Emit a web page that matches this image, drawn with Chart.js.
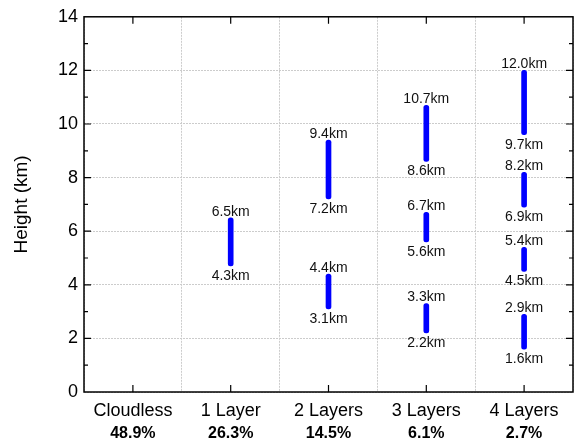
<!DOCTYPE html>
<html>
<head>
<meta charset="utf-8">
<script src="https://cdn.jsdelivr.net/npm/chart.js@4/dist/chart.umd.min.js"></script>
<style>
  html, body { margin: 0; padding: 0; background: #fff; }
  #wrap { width: 582px; height: 446px; }
</style>
</head>
<body>
<div id="wrap"><canvas id="cloud-chart"></canvas></div>
<script>
// Categories and share of each case
const categories = ['Cloudless', '1 Layer', '2 Layers', '3 Layers', '4 Layers'];
const shares = ['48.9%', '26.3%', '14.5%', '6.1%', '2.7%'];

// Cloud layer tops / bottoms in km (highest layer first)
const layerTops = [[], [6.5], [9.4, 4.4], [10.7, 6.7, 3.3], [12.0, 8.2, 5.4, 2.9]];
const layerBottoms = [[], [4.7], [7.2, 3.1], [8.6, 5.6, 2.2], [9.6, 6.9, 4.5, 1.6]];

// Text printed at the ends of each layer
const topLabels = [[], ['6.5km'], ['9.4km', '4.4km'], ['10.7km', '6.7km', '3.3km'], ['12.0km', '8.2km', '5.4km', '2.9km']];
const bottomLabels = [[], ['4.3km'], ['7.2km', '3.1km'], ['8.6km', '5.6km', '2.2km'], ['9.7km', '6.9km', '4.5km', '1.6km']];

const yTicks = [0, 2, 4, 6, 8, 10, 12, 14];

const FONT = "'Liberation Sans', Arial, sans-serif";
Chart.defaults.font.family = FONT;
Chart.defaults.color = '#000';

// one dataset per layer index
const datasets = [0, 1, 2, 3].map(function(i) {
    return {
        label: 'Layer ' + (i + 1),
        data: categories.map(function(c, k) {
            return layerTops[k][i] != null ? [layerBottoms[k][i], layerTops[k][i]] : null;
        }),
        backgroundColor: '#0000ff',
        barThickness: 5,
        borderRadius: 3,
        borderSkipped: false,
        grouped: false
    };
});

// km labels above / below each bar
const endLabels = {
    id: 'endLabels',
    afterDatasetsDraw(chart) {
        const ctx = chart.ctx;
        const y = chart.scales.y;
        ctx.save();
        ctx.font = '14px ' + FONT;
        ctx.fillStyle = '#111';
        ctx.textAlign = 'center';
        ctx.textBaseline = 'middle';
        chart.data.datasets.forEach(function(ds, i) {
            const meta = chart.getDatasetMeta(i);
            meta.data.forEach(function(el, k) {
                const v = ds.data[k];
                if (!v) return;
                ctx.fillText(topLabels[k][i], el.x, y.getPixelForValue(v[1]) - 6);
                ctx.fillText(bottomLabels[k][i], el.x, y.getPixelForValue(v[0]) + 10);
            });
        });
        ctx.restore();
    }
};

// box around the plot with inward tick marks
const frame = {
    id: 'frame',
    afterDraw(chart) {
        const ctx = chart.ctx;
        const a = chart.chartArea;
        const x = chart.scales.x;
        const y = chart.scales.y;
        ctx.save();
        ctx.strokeStyle = '#000';
        ctx.lineWidth = 1.5;
        ctx.strokeRect(a.left, a.top, a.right - a.left, a.bottom - a.top);
        ctx.lineWidth = 1.2;
        ctx.beginPath();
        categories.forEach(function(c, k) {
            const px = x.getPixelForValue(k);
            ctx.moveTo(px, a.bottom); ctx.lineTo(px, a.bottom - 7);
            ctx.moveTo(px, a.top); ctx.lineTo(px, a.top + 7);
        });
        for (let v = 1; v < 14; v++) {
            const py = y.getPixelForValue(v);
            const len = v % 2 === 0 ? 7 : 4;
            ctx.moveTo(a.left, py); ctx.lineTo(a.left + len, py);
            ctx.moveTo(a.right, py); ctx.lineTo(a.right - len, py);
        }
        ctx.stroke();
        ctx.restore();
    }
};

const ctx = document.getElementById('cloud-chart').getContext('2d');
new Chart(ctx, {
    type: 'bar',
    data: { labels: categories, datasets: datasets },
    options: {
        responsive: true,
        maintainAspectRatio: false,
        animation: false,
        layout: { padding: { top: 15, right: 9, left: 0, bottom: 0 } },
        plugins: {
            legend: { display: false },
            tooltip: { enabled: false }
        },
        scales: {
            x: {
                type: 'category',
                position: 'bottom',
                grid: { display: true, offset: true, drawTicks: false, color: '#cccccc', lineWidth: 1 },
                border: { display: false, dash: [2, 1] },
                ticks: { font: { size: 18 }, padding: 8, maxRotation: 0 },
                afterFit(scale) { scale.height = 30; }
            },
            x2: {
                type: 'category',
                position: 'bottom',
                labels: shares,
                grid: { display: false, drawTicks: false },
                border: { display: false },
                ticks: { font: { size: 16, weight: 'bold' }, padding: 2, maxRotation: 0 },
                afterFit(scale) { scale.height = 24; }
            },
            y: {
                min: 0,
                max: 14,
                afterBuildTicks(scale) { scale.ticks = yTicks.map(function(v) { return { value: v }; }); },
                grid: { drawTicks: false, color: '#cccccc', lineWidth: 1 },
                border: { display: false, dash: [2, 1] },
                ticks: { font: { size: 18 }, padding: 6 },
                title: {
                    display: true,
                    text: 'Height (km)',
                    font: { size: 19 },
                    padding: { top: 10, bottom: 0 }
                },
                afterFit(scale) { scale.width = 84; }
            }
        }
    },
    plugins: [endLabels, frame]
});
</script>
</body>
</html>
